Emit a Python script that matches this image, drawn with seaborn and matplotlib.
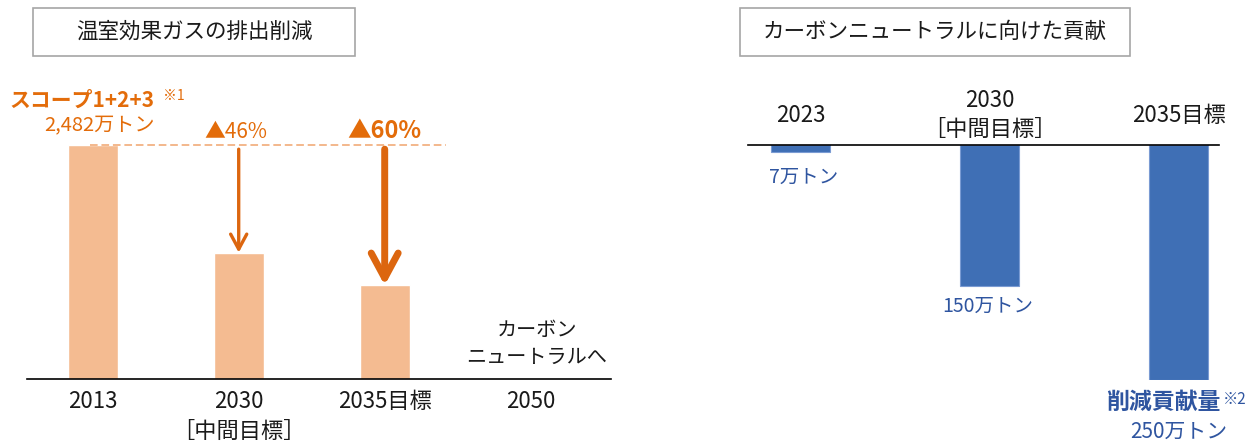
import numpy as np
import matplotlib
matplotlib.use("Agg")
import matplotlib.pyplot as plt
from matplotlib.patches import Rectangle
import seaborn as sns

# ---------------- data ----------------
left_categories = ["2013", "2030\n［中間目標］", "2035目標", "2050"]
left_values = [2482, 1340, 993, 0]          # 万トン (GHG emissions, scope 1+2+3)
left_reduction_labels = ["", "▲46%", "▲60%", ""]

right_categories = ["2023", "2030\n［中間目標］", "2035目標"]
right_values = [7, 150, 250]                 # 万トン (contribution to reduction)
right_value_labels = ["7万トン", "150万トン", "250万トン"]

left_title = "温室効果ガスの排出削減"
right_title = "カーボンニュートラルに向けた貢献"

# ---------------- style ----------------
sns.set_theme(style="white")
plt.rcParams["font.family"] = ["Noto Sans CJK JP", "DejaVu Sans"]

ORANGE_BAR = "#F4BB91"
ORANGE_TXT = "#E36C0A"
ORANGE_ARROW = "#DC660F"
ORANGE_DASH = "#F0A46E"
BLUE_BAR = "#3F6FB5"
BLUE_TXT = "#2F55A0"
TXT = "#1A1A1A"
TICK_FS = 16

W, H = 1258, 441
fig = plt.figure(figsize=(W / 100, H / 100), dpi=100)


def px_box(x0, y0, x1, y1):
    return [x0 / W, 1 - y1 / H, (x1 - x0) / W, (y1 - y0) / H]


# ---------------- title boxes ----------------
for (x0, y0, x1, y1), title in [((33, 8, 355, 56), left_title),
                                ((740, 8, 1130, 56), right_title)]:
    fig.add_artist(Rectangle((x0 / W, 1 - y1 / H), (x1 - x0) / W, (y1 - y0) / H,
                             transform=fig.transFigure, fill=False,
                             edgecolor="#A6A6A6", linewidth=1.2))
    fig.text((x0 + x1) / 2 / W, 1 - (y0 + y1) / 2 / H, title,
             ha="center", va="center", fontsize=15.5, color=TXT)

# ---------------- left panel ----------------
axL = fig.add_axes(px_box(27, 145, 611, 379))
sns.barplot(x=left_categories, y=left_values, color=ORANGE_BAR, saturation=1,
            width=0.34, ax=axL, order=left_categories)
axL.set_xlim(-0.45, 3.55)
axL.set_ylim(0, max(left_values))
axL.set_xlabel("")
axL.set_ylabel("")
axL.set_yticks([])
for s in ["top", "left", "right"]:
    axL.spines[s].set_visible(False)
axL.spines["bottom"].set_color("black")
axL.spines["bottom"].set_linewidth(1.2)
axL.tick_params(axis="x", length=0, pad=8, labelsize=TICK_FS, labelcolor=TXT)
for lab in axL.get_xticklabels():
    lab.set_linespacing(1.4)

base = left_values[0]
# dashed reference line at base-year level
axL.hlines(base, -0.02, 2.42, colors=ORANGE_DASH, linestyles=(0, (5, 2.5)),
           linewidth=1.1, clip_on=False, zorder=3)

# reduction arrows
arrow_specs = {1: (2.4, 1.08, 0.58), 2: (5.0, 1.8, 0.97)}
for i, (lw, hl, hw) in arrow_specs.items():
    axL.annotate("", xy=(i, left_values[i]), xytext=(i, base),
                 arrowprops=dict(arrowstyle=f"->,head_length={hl},head_width={hw}",
                                 lw=lw, color=ORANGE_ARROW, shrinkA=3, shrinkB=0,
                                 mutation_scale=10, capstyle="round",
                                 joinstyle="round"),
                 annotation_clip=False)

# texts
axL.annotate("スコープ1+2+3", xy=(0, base), xytext=(-11, 45), textcoords="offset pixels",
             ha="center", va="center", fontsize=15, fontweight="bold",
             color=ORANGE_TXT, annotation_clip=False)
axL.annotate("※1", xy=(0, base), xytext=(70, 49), textcoords="offset pixels",
             ha="left", va="center", fontsize=10, color=ORANGE_TXT,
             annotation_clip=False)
axL.annotate(f"{left_values[0]:,}万トン", xy=(0, base), xytext=(7, 19),
             textcoords="offset pixels", ha="center", va="center",
             fontsize=14.5, color=ORANGE_TXT, annotation_clip=False)
axL.annotate(left_reduction_labels[1], xy=(1, base), xytext=(-3, 13),
             textcoords="offset pixels", ha="center", va="center",
             fontsize=15, color=ORANGE_TXT, annotation_clip=False)
axL.annotate(left_reduction_labels[2], xy=(2, base), xytext=(0, 14),
             textcoords="offset pixels", ha="center", va="center",
             fontsize=17, fontweight="bold", color=ORANGE_TXT,
             annotation_clip=False)
axL.annotate("カーボン\nニュートラルへ", xy=(3, left_values[3]), xytext=(6, 35),
             textcoords="offset pixels", ha="center", va="center",
             fontsize=14.5, color=TXT, linespacing=1.35, annotation_clip=False)

# ---------------- right panel ----------------
axR = fig.add_axes(px_box(748, 145, 1219, 380))
neg_values = [-v for v in right_values]
sns.barplot(x=right_categories, y=neg_values, color=BLUE_BAR, saturation=1,
            width=0.31, ax=axR, order=right_categories,
            edgecolor="#7A9BD3", linewidth=0.8)
axR.set_xlim(-0.278, 2.214)
axR.set_ylim(-max(right_values), 0)
axR.set_xlabel("")
axR.set_ylabel("")
axR.set_yticks([])
for s in ["bottom", "left", "right"]:
    axR.spines[s].set_visible(False)
axR.spines["top"].set_color("black")
axR.spines["top"].set_linewidth(1.2)
axR.xaxis.set_ticks_position("top")
axR.tick_params(axis="x", length=0, pad=21.5, labelsize=TICK_FS, labelcolor=TXT,
                labeltop=True, labelbottom=False)
for lab in axR.get_xticklabels():
    lab.set_verticalalignment("center")
    lab.set_linespacing(1.3)

val_offsets = [(3, -26), (-2, -20), None]
for i, off in enumerate(val_offsets):
    if off is None:
        continue
    axR.annotate(right_value_labels[i], xy=(i, neg_values[i]), xytext=off,
                 textcoords="offset pixels", ha="center", va="center",
                 fontsize=14, color=BLUE_TXT, annotation_clip=False)

axR.annotate("削減貢献量", xy=(2, neg_values[2]), xytext=(-15, -22),
             textcoords="offset pixels", ha="center", va="center",
             fontsize=16.5, fontweight="bold", color=BLUE_TXT,
             annotation_clip=False)
axR.annotate("※2", xy=(2, neg_values[2]), xytext=(44, -19),
             textcoords="offset pixels", ha="left", va="center",
             fontsize=11, color=BLUE_TXT, annotation_clip=False)
axR.annotate(right_value_labels[2], xy=(2, neg_values[2]), xytext=(0, -52),
             textcoords="offset pixels", ha="center", va="center",
             fontsize=15, color=BLUE_TXT, annotation_clip=False)

fig.savefig("out.png", dpi=100)
